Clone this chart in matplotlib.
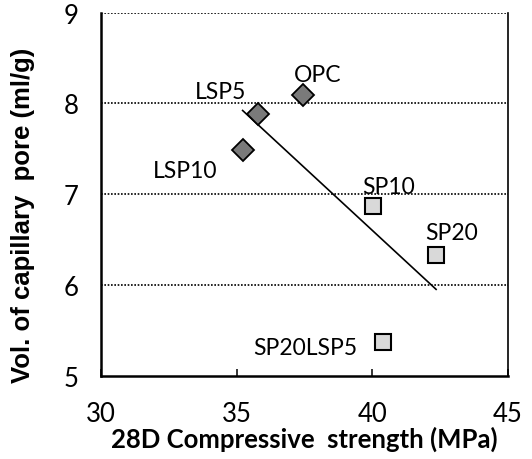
import numpy as np
import matplotlib
matplotlib.use("Agg")
import matplotlib.pyplot as plt

# 28-day compressive strength (MPa) vs capillary pore volume (ml/g)
ls_names = ["OPC", "LSP5", "LSP10"]
ls_strength = [37.46, 35.80, 35.22]
ls_pore = [8.09, 7.88, 7.49]

sp_names = ["SP10", "SP20", "SP20LSP5"]
sp_strength = [40.01, 42.35, 40.41]
sp_pore = [6.87, 6.33, 5.37]

# label offsets from each marker, in pixels
ls_offsets = [(14, 21), (-38, 23), (-57, -21)]
sp_offsets = [(16, 20), (15, 23), (-78, -5)]

fig = plt.figure(figsize=(5.32, 4.6), dpi=100)
ax = fig.add_axes([0.1898, 0.1804, 0.7651, 0.7902])

for y in [6, 7, 8, 9]:
    ax.axhline(y, color="black", lw=1.2, ls=(0, (1.0, 1.0)), zorder=1)

# linear fit over all mixes
xs = np.array(ls_strength + sp_strength)
ys = np.array(ls_pore + sp_pore)
k, b = np.polyfit(xs, ys, 1)
xf = np.array([xs.min(), xs.max()])
ax.plot(xf, k * xf + b, color="black", lw=1.2, zorder=2)

ax.plot(ls_strength, ls_pore, "D", ms=11, mfc="#7a7a7a", mec="black", mew=1.3,
        ls="none", zorder=3)
ax.plot(sp_strength, sp_pore, "s", ms=11, mfc="#d9d9d9", mec="black", mew=1.5,
        ls="none", zorder=3)

for names, xv, yv, offs in [(ls_names, ls_strength, ls_pore, ls_offsets),
                            (sp_names, sp_strength, sp_pore, sp_offsets)]:
    for n, x, y, o in zip(names, xv, yv, offs):
        ax.annotate(n, (x, y), xytext=o, textcoords="offset pixels",
                    ha="center", va="center", fontsize=16.5, family="Lato")

ax.set_xlim(30, 45)
ax.set_ylim(5, 9)
ax.set_xticks([30, 35, 40, 45])
ax.set_yticks([5, 6, 7, 8, 9])
ax.tick_params(axis="x", direction="in", length=5, width=1.1, pad=18,
               labelsize=18.5)
ax.tick_params(axis="y", length=0, pad=16, labelsize=18.5)
for lbl in ax.get_xticklabels() + ax.get_yticklabels():
    lbl.set_family("Lato")

ax.spines["top"].set_visible(False)
ax.spines["left"].set_linewidth(1.8)
ax.spines["bottom"].set_linewidth(1.8)
ax.spines["right"].set_linewidth(1.2)

ax.set_xlabel("28D Compressive  strength (MPa)", fontsize=18.5, fontweight="bold",
              family="Lato", labelpad=0)
ax.set_ylabel("Vol. of capillary  pore (ml/g)", fontsize=18.5, fontweight="bold",
              family="Liberation Sans")
ax.yaxis.set_label_coords(-0.163, 0.446)

fig.savefig("out.png", dpi=100)
